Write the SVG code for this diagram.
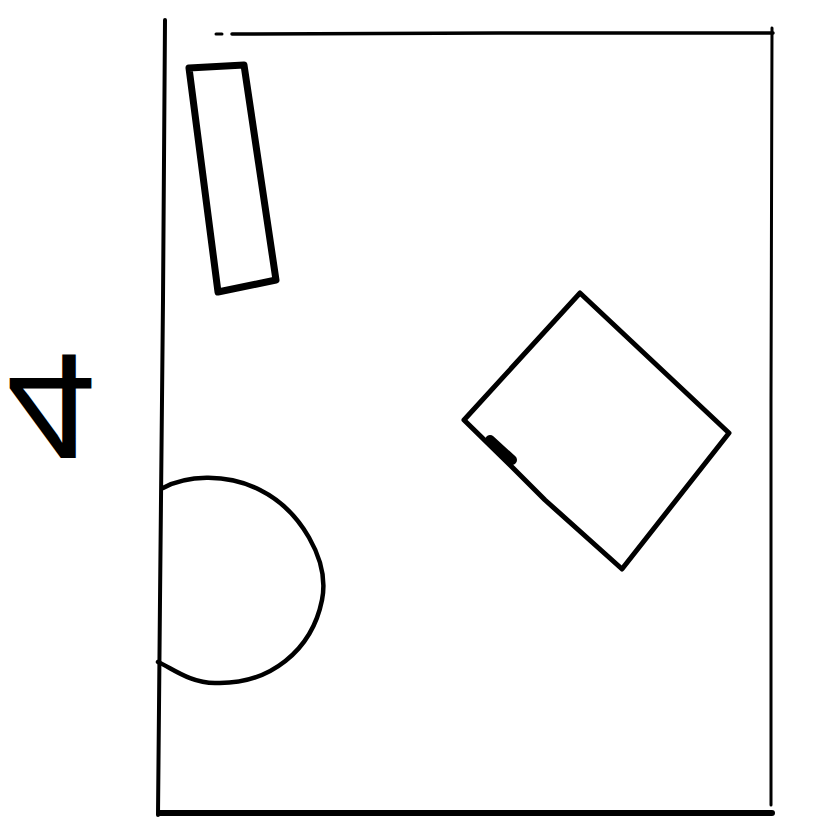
<svg xmlns="http://www.w3.org/2000/svg" width="813" height="819" viewBox="0 0 813 819">
<style>
.ln{fill:none;stroke:#000;stroke-linecap:round;stroke-linejoin:round}
.lbl{font-family:"Liberation Sans",Arial,sans-serif;font-size:150px;fill:#000}
</style>
<rect width="813" height="819" fill="#fff"/>
<g id="room">
<path class="ln" d="M165,20 L163,300 L160,600 L158,815" stroke-width="4"/>
<path class="ln" d="M232,34 L500,33 L773,33" stroke-width="3.5"/>
<path class="ln" d="M216,34 L222,34" stroke-width="3"/>
<path class="ln" d="M772,28 L771,400 L771,805" stroke-width="3"/>
<path class="ln" d="M160,813 L772,813" stroke-width="6"/>
</g>
<g id="window">
<path class="ln" d="M189,68 L244,65 L276,280 L218,292 Z" stroke-width="7"/>
</g>
<g id="table">
<path class="ln" d="M464,420 L580,293 L729,433 L622,569 L545,500 L510,465 Z" stroke-width="5"/>
<path class="ln" d="M490,440 L512,460" stroke-width="10"/>
</g>
<g id="door">
<path class="ln" d="M163,488 C185,476 225,472 260,490 C300,510 330,560 322,600 C312,650 270,685 215,683 C190,683 172,668 158,662" stroke-width="4.5"/>
</g>
<g id="label">
<text class="lbl" transform="translate(6,355) scale(1.08,-1)">4</text>
</g>
</svg>
